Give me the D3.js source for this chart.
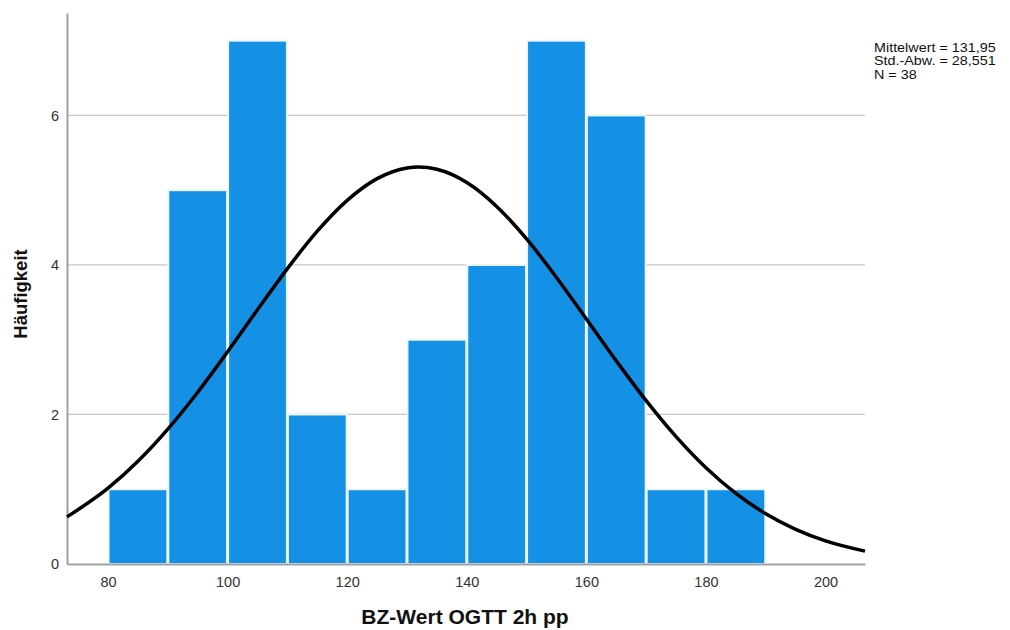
<!DOCTYPE html>
<html><head><meta charset="utf-8">
<script src="https://cdn.jsdelivr.net/npm/d3@7"></script>
<style>body{margin:0;background:#fff}svg{display:block}text{font-family:"Liberation Sans",Arial,sans-serif}</style>
</head><body><div id="chart"></div>
<script>
const binStarts = [80, 90, 100, 110, 120, 130, 140, 150, 160, 170, 180];
const binWidth = 10;
const counts = [1, 5, 7, 2, 1, 3, 4, 7, 6, 1, 1];
const curveX = [73.14, 80, 85, 90, 95, 100, 105, 110, 115, 120, 125, 130, 131.95, 135, 140, 145, 150, 155, 160, 165, 170, 175, 180, 185, 190, 195, 200, 206.6];
const curveY = [0.63, 1.014, 1.374, 1.804, 2.298, 2.839, 3.401, 3.951, 4.452, 4.864, 5.155, 5.298, 5.31, 5.28, 5.103, 4.783, 4.348, 3.833, 3.277, 2.717, 2.185, 1.704, 1.288, 0.945, 0.672, 0.464, 0.31, 0.1725];
const xTicks = [80, 100, 120, 140, 160, 180, 200];
const yTicks = [0, 2, 4, 6];
const statLines = ["Mittelwert = 131,95", "Std.-Abw. = 28,551", "N = 38"];

const W = 1010, H = 630;
const pLeft = 67, pRight = 865, pTop = 13, pBottom = 564;
const svg = d3.select("#chart").append("svg").attr("width", W).attr("height", H);
const x = d3.scaleLinear().domain([73.14, 206.6]).range([pLeft, pRight]);
const y = d3.scaleLinear().domain([0, 7.37]).range([pBottom, pTop]);

// gridlines
svg.append("g").selectAll("line").data(yTicks.filter(d => d > 0)).join("line")
  .attr("x1", pLeft).attr("x2", pRight)
  .attr("y1", d => y(d)).attr("y2", d => y(d))
  .attr("stroke", "#c8c8c8").attr("stroke-width", 1.2);

// bars
svg.append("g").selectAll("rect").data(binStarts.map((b, i) => ({b, c: counts[i]}))).join("rect")
  .attr("x", d => x(d.b) + 0.5)
  .attr("width", d => x(d.b + binWidth) - x(d.b) - 1)
  .attr("y", d => y(d.c))
  .attr("height", d => y(0) - y(d.c))
  .attr("fill", "#1490e5")
  .attr("stroke", "#eef6fd").attr("stroke-width", 2);

// axes
const xAxis = d3.axisBottom(x).tickValues(xTicks).tickSize(0).tickPadding(10);
const gx = svg.append("g").attr("transform", `translate(0,${pBottom})`).call(xAxis);
gx.select(".domain").attr("stroke", "#a0a0a0").attr("stroke-width", 2);
gx.selectAll("text").attr("font-size", 14.5).attr("fill", "#333").attr("dy", "0.9em");

const yAxis = d3.axisLeft(y).tickValues(yTicks).tickSize(0).tickPadding(8);
const gy = svg.append("g").attr("transform", `translate(${pLeft},0)`).call(yAxis);
gy.select(".domain").attr("stroke", "#a0a0a0").attr("stroke-width", 2);
gy.selectAll("text").attr("font-size", 14.5).attr("fill", "#333");

// normal curve
const line = d3.line().x(d => x(d[0])).y(d => y(d[1])).curve(d3.curveMonotoneX);
svg.append("path").datum(curveX.map((v, i) => [v, curveY[i]]))
  .attr("d", line).attr("fill", "none").attr("stroke", "#000").attr("stroke-width", 3.5);

// axis titles
svg.append("text").attr("x", 465).attr("y", 624).attr("text-anchor", "middle")
  .attr("font-size", 21).attr("font-weight", "bold").attr("fill", "#111").text("BZ-Wert OGTT 2h pp");
svg.append("text").attr("transform", "translate(27,294) rotate(-90)").attr("text-anchor", "middle")
  .attr("font-size", 18.5).attr("font-weight", "bold").attr("fill", "#111").text("Häufigkeit");

// stats
svg.append("g").attr("transform", "translate(874,0) scale(1.08,1)")
  .selectAll("text").data(statLines).join("text")
  .attr("x", 0).attr("y", (d, i) => 52 + i * 13.5)
  .attr("font-size", 13.3).attr("fill", "#111").text(d => d);
</script></body></html>
